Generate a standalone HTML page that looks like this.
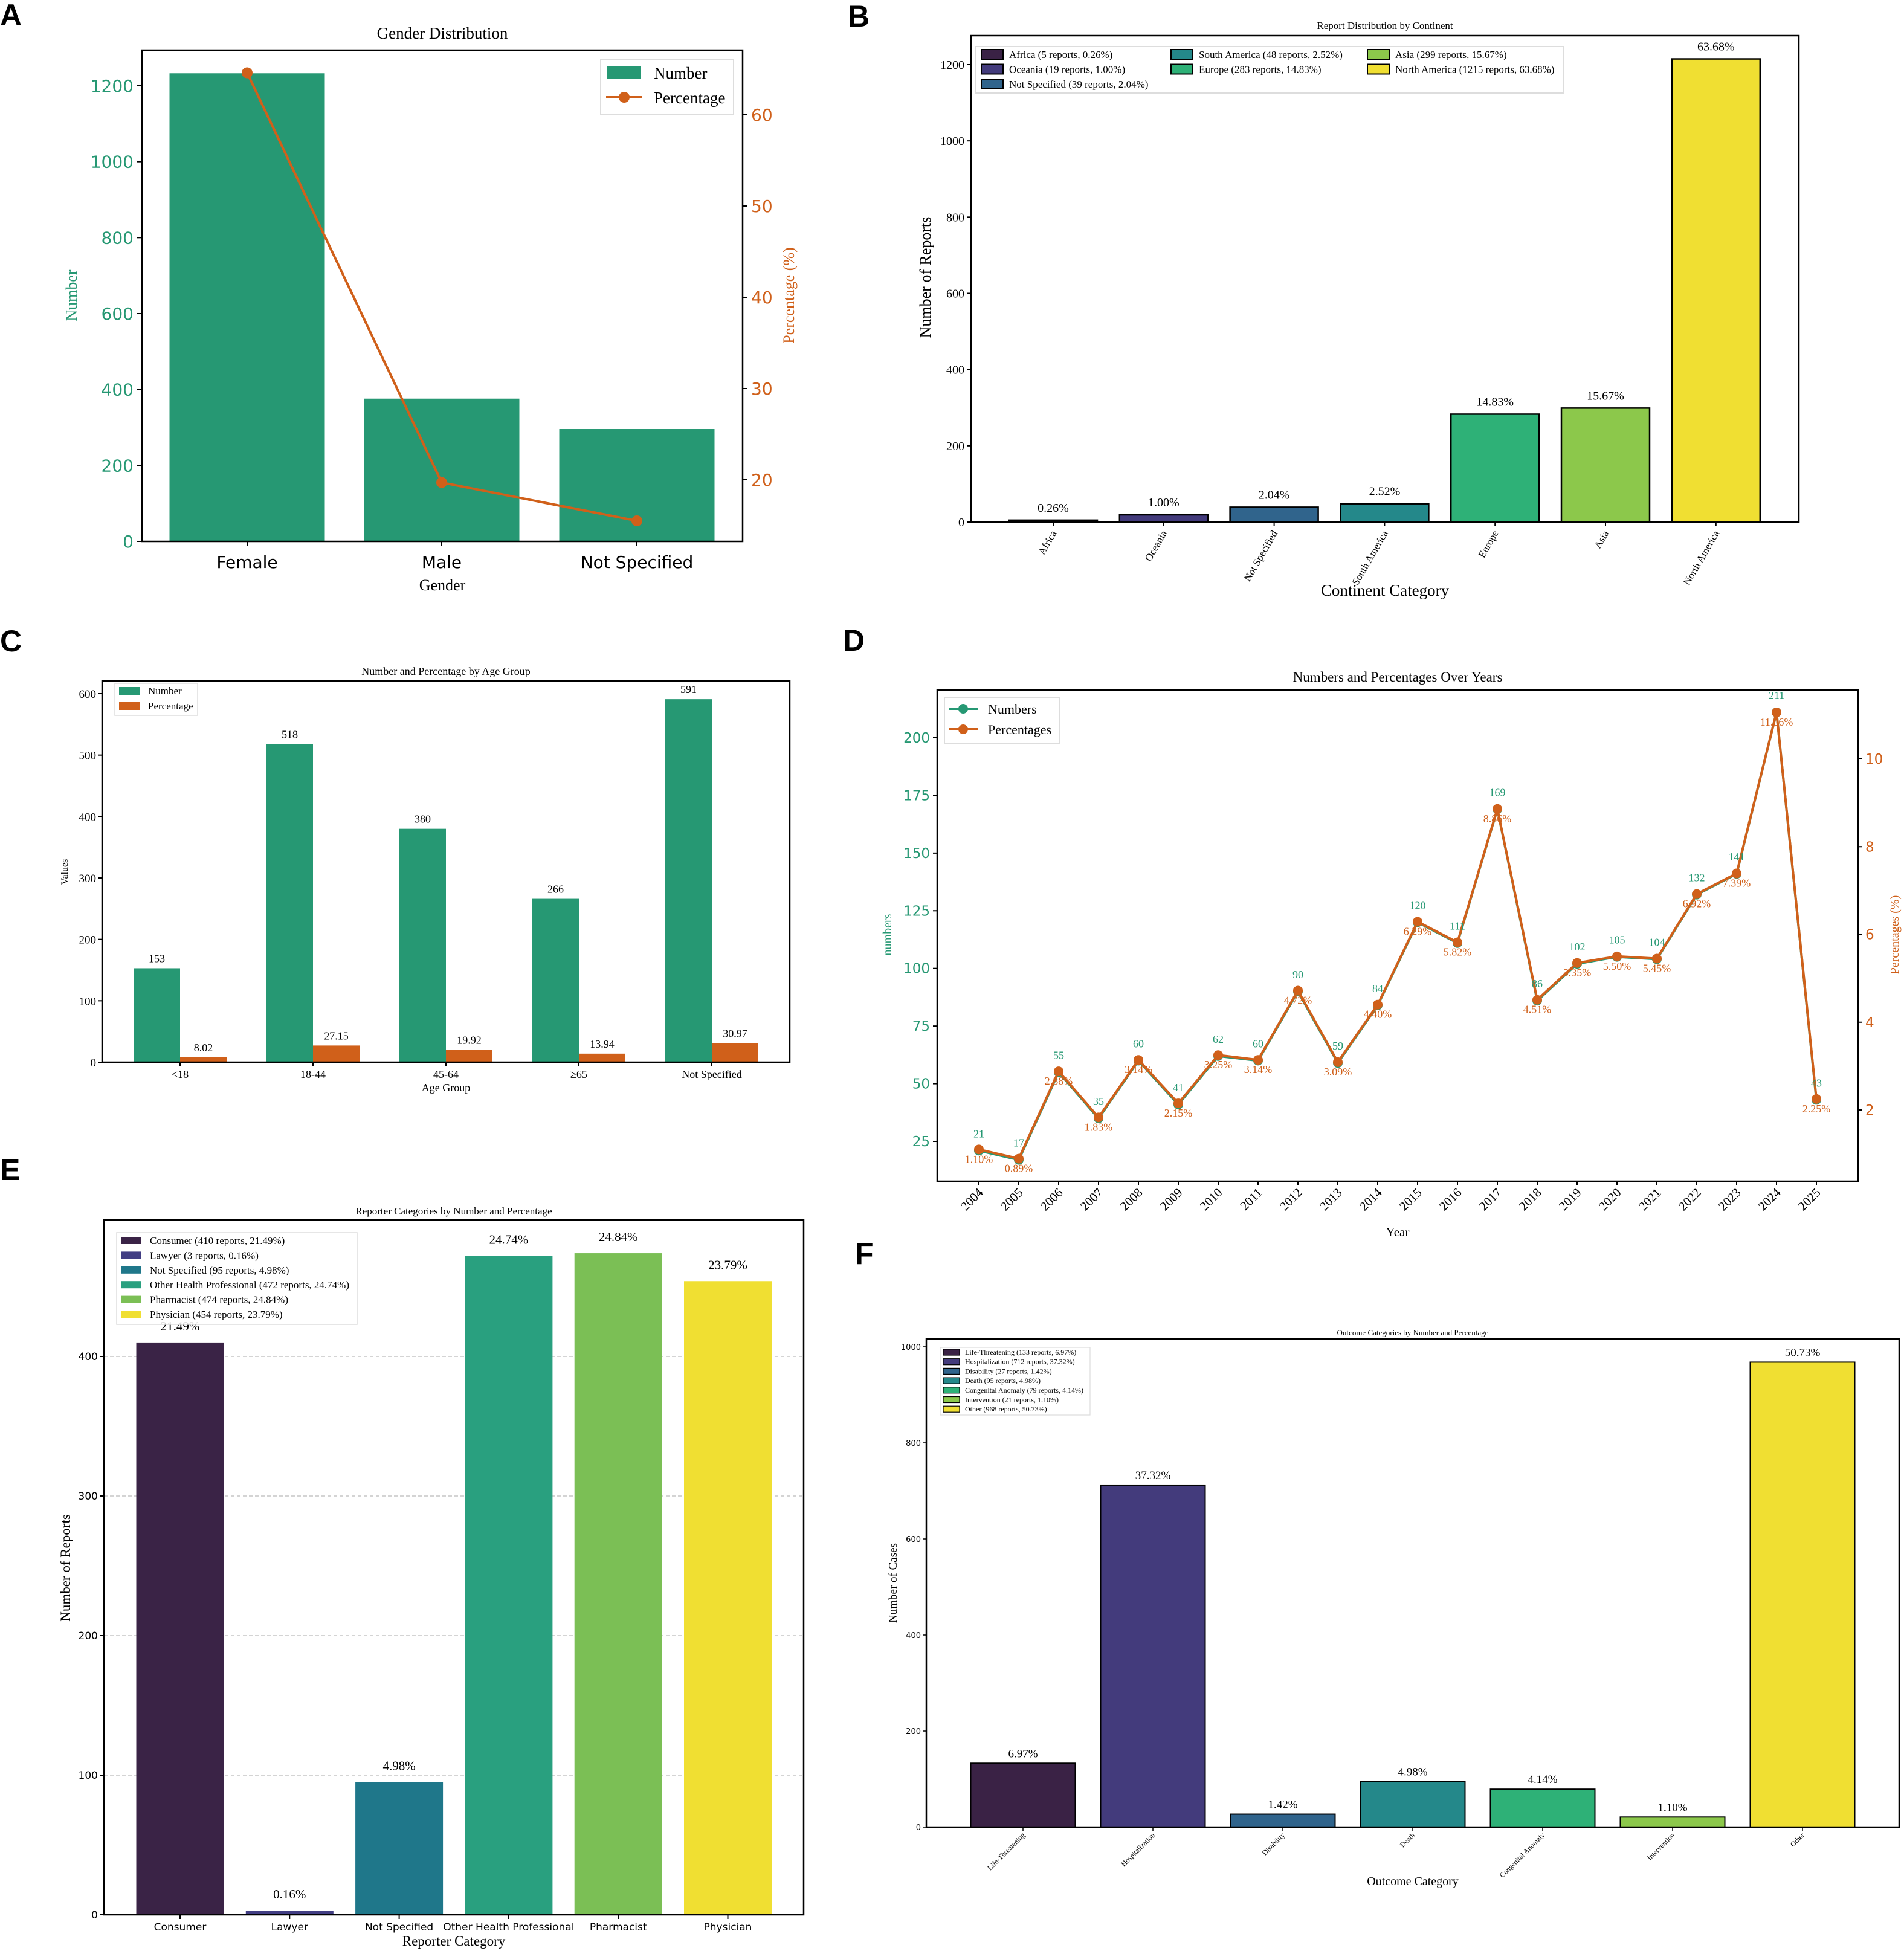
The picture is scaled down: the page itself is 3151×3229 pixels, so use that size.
<!DOCTYPE html>
<html><head><meta charset="utf-8"><title>Adverse Event Report Charts</title>
<style>html,body{margin:0;padding:0;background:#fff}svg{display:block}</style></head>
<body>
<svg id="fig" xmlns="http://www.w3.org/2000/svg" width="3151" height="3229" viewBox="0 0 3151 3229"></svg>
<script>
// ---------- DATA ----------
const genderCats = ['Female','Male','Not Specified'];
const genderNums = [1233, 376, 296];
const genderPcts = [64.6, 19.7, 15.5];
const genderLeftTicks = [0,200,400,600,800,1000,1200];
const genderRightTicks = [20,30,40,50,60];

const contCats = ['Africa','Oceania','Not Specified','South America','Europe','Asia','North America'];
const contNums = [5,19,39,48,283,299,1215];
const contPcts = ['0.26%','1.00%','2.04%','2.52%','14.83%','15.67%','63.68%'];
const contTicks = [0,200,400,600,800,1000,1200];

const ageCats = ['<18','18-44','45-64','≥65','Not Specified'];
const ageNums = [153,518,380,266,591];
const agePcts = [8.02,27.15,19.92,13.94,30.97];
const ageTicks = [0,100,200,300,400,500,600];

const years = ['2004','2005','2006','2007','2008','2009','2010','2011','2012','2013','2014','2015','2016','2017','2018','2019','2020','2021','2022','2023','2024','2025'];
const yearNums = [21,17,55,35,60,41,62,60,90,59,84,120,111,169,86,102,105,104,132,141,211,43];
const yearPcts = [1.10,0.89,2.88,1.83,3.14,2.15,3.25,3.14,4.72,3.09,4.40,6.29,5.82,8.86,4.51,5.35,5.50,5.45,6.92,7.39,11.06,2.25];
const yearLeftTicks = [25,50,75,100,125,150,175,200];
const yearRightTicks = [2,4,6,8,10];

const repCats = ['Consumer','Lawyer','Not Specified','Other Health Professional','Pharmacist','Physician'];
const repNums = [410,3,95,472,474,454];
const repPcts = ['21.49%','0.16%','4.98%','24.74%','24.84%','23.79%'];
const repTicks = [0,100,200,300,400];

const outCats = ['Life-Threatening','Hospitalization','Disability','Death','Congenital Anomaly','Intervention','Other'];
const outNums = [133,712,27,95,79,21,968];
const outPcts = ['6.97%','37.32%','1.42%','4.98%','4.14%','1.10%','50.73%'];
const outTicks = [0,200,400,600,800,1000];

// ---------- HELPERS ----------
const NS='http://www.w3.org/2000/svg';
const svg=document.getElementById('fig');
const SERIF='"Liberation Serif", serif', SANS='"DejaVu Sans", "Liberation Sans", sans-serif';
const GREEN='#269873', ORANGE='#d0601a';
const V7=['#3a2245','#433b7c','#30648c','#24888a','#2eb177','#8cc84b','#f0df32'];
const V6=['#3a2346','#413d83','#1f778a','#29a07f','#7bbf55','#f0df32'];
function mk(tag, attrs, name, inter){
  const el=document.createElementNS(NS,tag);
  for(const k in attrs) el.setAttribute(k, attrs[k]);
  
  
  svg.appendChild(el); return el;
}
function txt(x,y,s,size,name,o){
  o=o||{};
  const a={x:x,y:y,'font-size':size,'font-family':o.family||SERIF,fill:o.fill||'#000','text-anchor':o.anchor||'middle'};
  if(o.weight) a['font-weight']=o.weight;
  if(o.rot!==undefined) a.transform='rotate('+o.rot+' '+x+' '+y+')';
  if(o.base) a['dominant-baseline']=o.base;
  const t=mk('text',a,name); t.textContent=s; return t;
}
function ln(x1,y1,x2,y2,stroke,w,name,dash){
  const a={x1:x1,y1:y1,x2:x2,y2:y2,stroke:stroke,'stroke-width':w};
  if(dash) a['stroke-dasharray']=dash;
  return mk('line',a,name);
}
function rc(x,y,w,h,fill,name,stroke,sw){
  const a={x:x,y:y,width:w,height:h,fill:fill};
  if(stroke){a.stroke=stroke;a['stroke-width']=sw||2;}
  return mk('rect',a,name);
}
function frame(l,t,r,b,name){ rc(l,t,r-l,b-t,'none',name,'#000',2.5); }

// ---------- PANEL A ----------
(function(){
  const L=235,R=1229,T=83,B=896;
  const yL=v=>B-v*(754/1200);
  const yR=p=>794-(p-20)*(604/40);
  const cx=[409,731,1054], bw=257;
  txt(0,42,'A',50,'panel-label-a',{anchor:'start',family:'"Liberation Sans", sans-serif',weight:'bold'});
  txt(732,64,'Gender Distribution',27,'chart-title-a');
  genderNums.forEach((v,i)=>{ rc(cx[i]-bw/2,yL(v),bw,B-yL(v),GREEN,'bar-'+genderCats[i].toLowerCase().replace(/ /g,'-')); });
  let d=''; genderPcts.forEach((p,i)=>{ d+=(i?'L':'M')+cx[i]+' '+yR(p); });
  mk('path',{d:d,fill:'none',stroke:ORANGE,'stroke-width':4},'percentage-line');
  genderPcts.forEach((p,i)=>{ mk('circle',{cx:cx[i],cy:yR(p),r:9,fill:ORANGE},'percentage-point'); });
  frame(L,T,R,B,'plot-frame-a');
  genderLeftTicks.forEach(v=>{ ln(L-8,yL(v),L,yL(v),'#000',2,'left-tick'); txt(L-14,yL(v)+10,String(v),28,'left-tick-label',{anchor:'end',family:SANS,fill:GREEN}); });
  genderRightTicks.forEach(v=>{ ln(R,yR(v),R+8,yR(v),'#000',2,'right-tick'); txt(R+14,yR(v)+10,String(v),28,'right-tick-label',{anchor:'start',family:SANS,fill:ORANGE}); });
  genderCats.forEach((c,i)=>{ ln(cx[i],B,cx[i],B+8,'#000',2,'x-tick'); txt(cx[i],940,c,28,'x-tick-label',{family:SANS}); });
  txt(732,977,'Gender',26,'x-axis-title-a');
  txt(127,489,'Number',26,'y-axis-title-a',{fill:GREEN,rot:-90});
  txt(1314,489,'Percentage (%)',26,'y2-axis-title-a',{fill:ORANGE,rot:-90});
  rc(994,98,220,91,'#fff','legend-a','#ddd',2);
  rc(1005,110,55,20,GREEN,'legend-swatch-number');
  txt(1082,130,'Number',27,'legend-label-number',{anchor:'start'});
  ln(1003,161,1063,161,ORANGE,4,'legend-line-percentage');
  mk('circle',{cx:1033,cy:161,r:9,fill:ORANGE},'legend-marker-percentage');
  txt(1082,171,'Percentage',27,'legend-label-percentage',{anchor:'start'});
})();

// ---------- PANEL B ----------
(function(){
  const L=1607,R=2977,T=59,B=864;
  const y=v=>B-v*(757/1200);
  const cx=i=>1743+182.8*i, bw=146;
  txt(1403,44,'B',50,'panel-label-b',{anchor:'start',family:'"Liberation Sans", sans-serif',weight:'bold'});
  txt(2292,48,'Report Distribution by Continent',17,'chart-title-b');
  contNums.forEach((v,i)=>{
    rc(cx(i)-bw/2,y(v),bw,B-y(v),V7[i],'bar-'+contCats[i].toLowerCase().replace(/ /g,'-'),'#000',2.5);
    txt(cx(i),y(v)-14,contPcts[i],20,'bar-value-label');
    ln(cx(i),B,cx(i),B+7,'#000',2,'x-tick');
    txt(cx(i)+6,B+18,contCats[i],17,'x-tick-label',{anchor:'end',rot:-60});
  });
  frame(L,T,R,B,'plot-frame-b');
  contTicks.forEach(v=>{ ln(L-7,y(v),L,y(v),'#000',2,'y-tick'); txt(L-11,y(v)+7,String(v),20,'y-tick-label',{anchor:'end'}); });
  txt(2292,986,'Continent Category',27,'x-axis-title-b');
  txt(1540,459,'Number of Reports',26,'y-axis-title-b',{rot:-90});
  rc(1615,77,972,77,'#fff','legend-b','#ddd',2);
  const lx=[1624,1938,2263];
  contCats.forEach((c,i)=>{
    const col=i<3?0:(i<5?1:2), row=i<3?i:(i<5?i-3:i-5);
    const yy=90+row*24.5;
    rc(lx[col],yy-8,36,16,V7[i],'legend-swatch','#000',2);
    txt(lx[col]+46,yy+6,c+' ('+contNums[i]+' reports, '+contPcts[i]+')',17,'legend-label',{anchor:'start'});
  });
})();

// ---------- PANEL C ----------
(function(){
  const L=169,R=1307,T=1127,B=1758;
  const y=v=>B-v*(610/600);
  const cx=i=>298+220*i, bw=77;
  txt(0,1078,'C',50,'panel-label-c',{anchor:'start',family:'"Liberation Sans", sans-serif',weight:'bold'});
  txt(738,1117,'Number and Percentage by Age Group',18,'chart-title-c');
  ageNums.forEach((v,i)=>{
    rc(cx(i)-bw,y(v),bw,B-y(v),GREEN,'bar-number');
    txt(cx(i)-bw/2,y(v)-10,String(v),18,'bar-number-label');
    const p=agePcts[i];
    rc(cx(i),y(p),bw,B-y(p),ORANGE,'bar-percentage');
    txt(cx(i)+bw/2,y(p)-10,p.toFixed(2),18,'bar-percentage-label');
    ln(cx(i),B,cx(i),B+7,'#000',2,'x-tick');
    txt(cx(i),B+26,ageCats[i],18,'x-tick-label');
  });
  frame(L,T,R,B,'plot-frame-c');
  ageTicks.forEach(v=>{ ln(L-7,y(v),L,y(v),'#000',2,'y-tick'); txt(L-10,y(v)+7,String(v),19,'y-tick-label',{anchor:'end'}); });
  txt(738,1806,'Age Group',18,'x-axis-title-c');
  txt(112,1443,'Values',16,'y-axis-title-c',{rot:-90});
  rc(190,1131,137,53,'#fff','legend-c','#ddd',1.5);
  rc(197,1137,34,13,GREEN,'legend-swatch-number');
  txt(245,1149,'Number',17,'legend-label-number',{anchor:'start'});
  rc(197,1162,34,13,ORANGE,'legend-swatch-percentage');
  txt(245,1174,'Percentage',17,'legend-label-percentage',{anchor:'start'});
})();

// ---------- PANEL D ----------
(function(){
  const L=1551,R=3075,T=1142,B=1955;
  const x=i=>1620+66*i;
  const yL=v=>1889-(v-25)*(668/175);
  const yR=p=>1837-(p-2)*(581/8);
  txt(1395,1077,'D',50,'panel-label-d',{anchor:'start',family:'"Liberation Sans", sans-serif',weight:'bold'});
  txt(2313,1128,'Numbers and Percentages Over Years',23,'chart-title-d');
  let d1=''; yearNums.forEach((v,i)=>{ d1+=(i?'L':'M')+x(i)+' '+yL(v); });
  mk('path',{d:d1,fill:'none',stroke:GREEN,'stroke-width':4},'numbers-line');
  yearNums.forEach((v,i)=>{ mk('circle',{cx:x(i),cy:yL(v),r:8,fill:GREEN},'numbers-point'); });
  let d2=''; yearPcts.forEach((p,i)=>{ d2+=(i?'L':'M')+x(i)+' '+yR(p); });
  mk('path',{d:d2,fill:'none',stroke:ORANGE,'stroke-width':4},'percentages-line');
  yearPcts.forEach((p,i)=>{ mk('circle',{cx:x(i),cy:yR(p),r:8,fill:ORANGE},'percentages-point'); });
  yearNums.forEach((v,i)=>{ txt(x(i),yL(v)-22,String(v),18,'numbers-value-label',{fill:GREEN}); });
  yearPcts.forEach((p,i)=>{ txt(x(i),yR(p)+22,p.toFixed(2)+'%',18,'percentages-value-label',{fill:ORANGE}); });
  frame(L,T,R,B,'plot-frame-d');
  yearLeftTicks.forEach(v=>{ ln(L-7,yL(v),L,yL(v),'#000',2,'left-tick'); txt(L-12,yL(v)+8,String(v),23,'left-tick-label',{anchor:'end',family:SANS,fill:GREEN}); });
  yearRightTicks.forEach(v=>{ ln(R,yR(v),R+7,yR(v),'#000',2,'right-tick'); txt(R+12,yR(v)+8,String(v),23,'right-tick-label',{anchor:'start',family:SANS,fill:ORANGE}); });
  years.forEach((yr,i)=>{ ln(x(i),B,x(i),B+7,'#000',2,'x-tick'); txt(x(i)+8,B+20,yr,21,'x-tick-label',{anchor:'end',rot:-45}); });
  txt(2313,2046,'Year',21,'x-axis-title-d');
  txt(1475,1547,'numbers',20,'y-axis-title-d',{fill:GREEN,rot:-90});
  txt(3142,1547,'Percentages (%)',20,'y2-axis-title-d',{fill:ORANGE,rot:-90});
  rc(1563,1154,190,77,'#fff','legend-d','#ddd',2);
  ln(1570,1173,1619,1173,GREEN,4,'legend-line-numbers');
  mk('circle',{cx:1594,cy:1173,r:8,fill:GREEN},'legend-marker-numbers');
  txt(1635,1181,'Numbers',22,'legend-label-numbers',{anchor:'start'});
  ln(1570,1207,1619,1207,ORANGE,4,'legend-line-percentages');
  mk('circle',{cx:1594,cy:1207,r:8,fill:ORANGE},'legend-marker-percentages');
  txt(1635,1215,'Percentages',22,'legend-label-percentages',{anchor:'start'});
})();

// ---------- PANEL E ----------
(function(){
  const L=172,R=1330,T=2019,B=3169;
  const y=v=>B-v*(924/400);
  const cx=i=>298+181.3*i, bw=145;
  txt(0,1953,'E',50,'panel-label-e',{anchor:'start',family:'"Liberation Sans", sans-serif',weight:'bold'});
  txt(751,2010,'Reporter Categories by Number and Percentage',17,'chart-title-e');
  [100,200,300,400].forEach(v=>{ ln(L,y(v),R,y(v),'#bbb',1.2,'grid-line','6 4'); });
  repNums.forEach((v,i)=>{
    rc(cx(i)-bw/2,y(v),bw,B-y(v),V6[i],'bar-'+repCats[i].toLowerCase().replace(/ /g,'-'));
    txt(cx(i),y(v)-20,repPcts[i],21,'bar-value-label');
    ln(cx(i),B,cx(i),B+7,'#000',2,'x-tick');
    txt(cx(i),B+26,repCats[i],17,'x-tick-label',{family:SANS});
  });
  frame(L,T,R,B,'plot-frame-e');
  repTicks.forEach(v=>{ ln(L-7,y(v),L,y(v),'#000',2,'y-tick'); txt(L-10,y(v)+6,String(v),17,'y-tick-label',{anchor:'end',family:SANS}); });
  txt(751,3220,'Reporter Category',23,'x-axis-title-e');
  txt(116,2595,'Number of Reports',23,'y-axis-title-e',{rot:-90});
  rc(193,2040,398,152,'rgba(255,255,255,0.85)','legend-e','#ddd',1.5);
  repCats.forEach((c,i)=>{
    const yy=2053+24.4*i;
    rc(200,yy-6,34,12,V6[i],'legend-swatch');
    txt(248,yy+6,c+' ('+repNums[i]+' reports, '+repPcts[i]+')',17,'legend-label',{anchor:'start'});
  });
})();

// ---------- PANEL F ----------
(function(){
  const L=1533,R=3143,T=2216,B=3024;
  const y=v=>B-v*(795/1000);
  const cx=i=>1693+215*i, bw=173;
  txt(1415,2092,'F',50,'panel-label-f',{anchor:'start',family:'"Liberation Sans", sans-serif',weight:'bold'});
  txt(2338,2210,'Outcome Categories by Number and Percentage',13,'chart-title-f');
  outNums.forEach((v,i)=>{
    rc(cx(i)-bw/2,y(v),bw,B-y(v),V7[i],'bar-'+outCats[i].toLowerCase().replace(/ /g,'-'),'#000',2);
    txt(cx(i),y(v)-10,outPcts[i],19,'bar-value-label');
    ln(cx(i),B,cx(i),B+6,'#000',1.5,'x-tick');
    txt(cx(i)+4,B+14,outCats[i],12,'x-tick-label',{anchor:'end',rot:-45});
  });
  frame(L,T,R,B,'plot-frame-f');
  outTicks.forEach(v=>{ ln(L-6,y(v),L,y(v),'#000',1.5,'y-tick'); txt(L-9,y(v)+5,String(v),13,'y-tick-label',{anchor:'end',family:SANS}); });
  txt(2338,3120,'Outcome Category',20,'x-axis-title-f');
  txt(1484,2620,'Number of Cases',19,'y-axis-title-f',{rot:-90});
  rc(1556,2230,248,112,'#fff','legend-f','#ddd',1.2);
  outCats.forEach((c,i)=>{
    const yy=2238+15.7*i;
    rc(1561,yy-5,27,10,V7[i],'legend-swatch','#000',1.2);
    txt(1597,yy+4,c+' ('+outNums[i]+' reports, '+outPcts[i]+')',12,'legend-label',{anchor:'start'});
  });
})();
</script>
</body></html>
